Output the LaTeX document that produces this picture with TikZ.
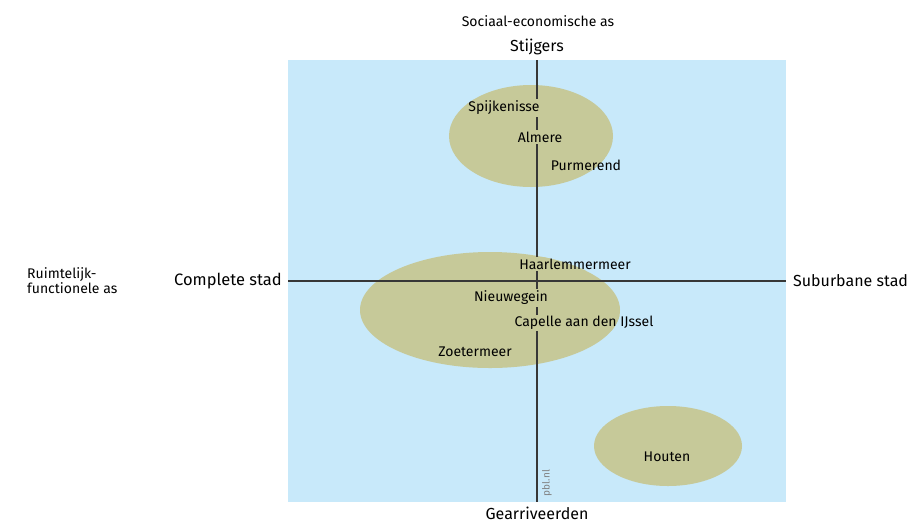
\documentclass[tikz,border=0pt]{standalone}
\usepackage{fontspec}
\setmainfont{Fira Sans}
\usetikzlibrary{positioning}
\definecolor{vlak}{RGB}{200,233,250}
\definecolor{olijf}{RGB}{198,201,153}
\definecolor{aslijn}{RGB}{55,55,55}
\pgfdeclarelayer{achter}
\pgfdeclarelayer{assen}
\pgfdeclarelayer{wis}
\pgfsetlayers{achter,assen,wis,main}

\begin{document}
\begin{tikzpicture}[x=1pt,y=-1pt,
	stad/.style={inner sep=1.5pt,font=\fontsize{14}{16}\selectfont},
	poot/.style={inner sep=0pt,font=\fontsize{16}{18}\selectfont},
	klein/.style={inner sep=0pt,align=left,font=\fontsize{14}{15}\selectfont},
	as/.style={draw=aslijn,line width=2pt}]
				%%%%% START %%%%%
				\def\xl{288}
				\def\xr{786}
				\def\yt{60}
				\def\yb{502}
				\def\xm{537}
				\def\ym{281}
				\def\groepeen{(531,136) ellipse [x radius=82, y radius=51]}
				\def\groeptwee{(490,310) ellipse [x radius=130, y radius=58]}
				\def\groepdrie{(668,446) ellipse [x radius=74, y radius=40]}

				\useasboundingbox (0,0) rectangle (912,523);

				% vlak en groepen
				\begin{pgfonlayer}{achter}
				\fill[vlak] (\xl,\yt) rectangle (\xr,\yb);
				\fill[olijf] \groepeen;
				\fill[olijf] \groeptwee;
				\fill[olijf] \groepdrie;
				\end{pgfonlayer}

				% assen
				\coordinate (boven) at (\xm,\yt);
				\coordinate (onder) at (\xm,\yb);
				\coordinate (links) at (\xl,\ym);
				\coordinate (rechts) at (\xr,\ym);
				\begin{pgfonlayer}{assen}
				\draw[as] (boven) -- (onder);
				\draw[as] (links) -- (rechts);
				\end{pgfonlayer}

				\node[poot, above=5pt of boven] (stijgers) {Stijgers};
				\node[poot, below=5pt of onder] (gearriveerd) {Gearriveerden};
				\node[poot, left=6pt of links, font=\fontsize{16.5}{18}\selectfont] (compleet) {Complete stad};
				\node[poot, right=7pt of rechts] (suburbaan) {Suburbane stad};
				\node[klein] (socec) at (538,21) {Sociaal-economische as};
				\node[klein, anchor=west] (ruimfunc) at (27,281) {Ruimtelijk-\\functionele as};

				% steden
				\node[stad] (spijkenisse) at (504,108) {Spijkenisse};
				\node[stad] (almere) at (540,137) {Almere};
				\node[stad] (purmerend) at (586,165) {Purmerend};
				\node[stad] (haarlemmermeer) at (575,264) {Haarlemmermeer};
				\node[stad] (nieuwegein) at (511,298) {Nieuwegein};
				\node[stad] (capelle) at (584,323) {Capelle aan den IJssel};
				\node[stad] (zoetermeer) at (475,352) {Zoetermeer};
				\node[stad] (houten) at (667,457) {Houten};

				% lijn onder de namen wissen, alleen binnen de groep
				\begin{pgfonlayer}{wis}
				\begin{scope}
				\clip \groepeen;
				\foreach \s in {spijkenisse,almere,purmerend}
					\fill[olijf] (\s.south west) rectangle (\s.north east);
				\end{scope}
				\begin{scope}
				\clip \groeptwee;
				\foreach \s in {haarlemmermeer,nieuwegein,capelle,zoetermeer}
					\fill[olijf] (\s.south west) rectangle (\s.north east);
				\end{scope}
				\end{pgfonlayer}

				\node[rotate=90, text=gray, inner sep=0pt, font=\fontsize{10}{11}\selectfont] (pbl) at (547,483) {pbl.nl};
				%%%%% START %%%%%
			\end{tikzpicture}
\end{document}
